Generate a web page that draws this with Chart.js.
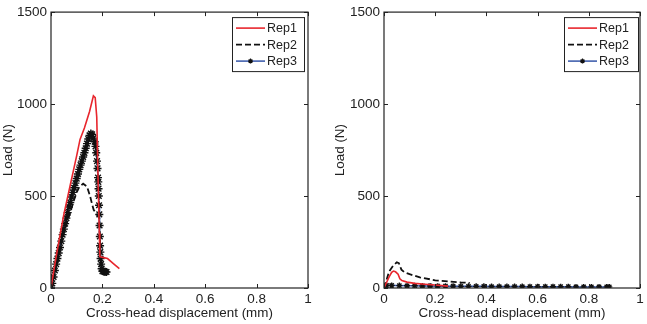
<!DOCTYPE html>
<html>
<head>
<meta charset="utf-8">
<script src="https://cdn.jsdelivr.net/npm/chart.js@4/dist/chart.umd.min.js"></script>
<style>
  html, body { margin: 0; padding: 0; background: #fff; }
  .panel { position: absolute; top: 0; height: 324px; }
  #leftBox { left: 0; width: 323px; }
  #rightBox { left: 332px; width: 315px; }
</style>
</head>
<body>
<div id="leftBox" class="panel"><canvas id="leftChart"></canvas></div>
<div id="rightBox" class="panel"><canvas id="rightChart"></canvas></div>
<script>
// tick labels
const xTicks = [0, 0.2, 0.4, 0.6, 0.8, 1];
const yTicks = [0, 500, 1000, 1500];
const seriesNames = ["Rep1", "Rep2", "Rep3"];

// left panel
const leftRep1X = [0, 0.02, 0.05, 0.075, 0.1, 0.113, 0.13, 0.15, 0.165, 0.172, 0.178, 0.183, 0.188, 0.19, 0.205, 0.22, 0.245, 0.266];
const leftRep1Y = [0, 170, 400, 560, 720, 808, 870, 960, 1045, 1035, 930, 600, 300, 170, 165, 160, 130, 105];

const leftRep2X = [0, 0.05, 0.09, 0.1, 0.11, 0.125, 0.14, 0.152, 0.16, 0.166, 0.178, 0.188, 0.191, 0.197];
const leftRep2Y = [0, 300, 480, 520, 550, 567, 552, 500, 455, 425, 400, 380, 230, 100];

const leftRep3X = [0, 0.005, 0.01, 0.015, 0.02, 0.025, 0.03, 0.035, 0.04, 0.045, 0.05, 0.055, 0.06, 0.065, 0.07,
  0.075, 0.08, 0.085, 0.09, 0.095, 0.1, 0.105, 0.11, 0.115, 0.12, 0.125, 0.13, 0.135, 0.14, 0.145, 0.15, 0.155,
  0.16, 0.165, 0.17, 0.173, 0.176, 0.179, 0.181, 0.183, 0.184, 0.185, 0.186, 0.187, 0.188, 0.189, 0.19, 0.191,
  0.192, 0.193, 0.195, 0.197, 0.2, 0.204, 0.208, 0.212, 0.216];
const leftRep3Y = [0, 25, 60, 95, 130, 160, 190, 220, 255, 290, 320, 350, 380, 410, 440,
  465, 495, 520, 545, 570, 595, 620, 645, 668, 690, 712, 735, 760, 785, 810, 830, 840,
  835, 815, 795, 770, 735, 690, 650, 600, 577, 540, 500, 450, 400, 340, 280, 230,
  195, 160, 130, 105, 92, 90, 89, 88, 87];

// right panel
const rightRep1X = [0, 0.01, 0.02, 0.03, 0.037, 0.045, 0.055, 0.062, 0.07, 0.09, 0.12, 0.16, 0.2, 0.25];
const rightRep1Y = [0, 30, 60, 85, 92, 88, 75, 50, 40, 32, 25, 20, 16, 10];

const rightRep2X = [0, 0.02, 0.035, 0.05, 0.058, 0.068, 0.08, 0.1, 0.14, 0.2, 0.25, 0.3, 0.335];
const rightRep2Y = [0, 90, 120, 140, 135, 100, 85, 75, 58, 42, 36, 30, 28];

const rightRep3X = [0, 0.01, 0.03, 0.06, 0.09, 0.12, 0.15, 0.18, 0.21, 0.24, 0.27, 0.3, 0.33, 0.36, 0.39, 0.42,
  0.45, 0.48, 0.51, 0.54, 0.57, 0.6, 0.63, 0.66, 0.69, 0.72, 0.75, 0.78, 0.81, 0.84, 0.87, 0.88];
const rightRep3Y = [0, 14, 14, 13, 12, 12, 11, 11, 10, 10, 10, 9, 9, 9, 9, 8,
  8, 8, 8, 8, 7, 7, 7, 7, 7, 7, 6, 6, 6, 6, 6, 6];

const FONT = "'Liberation Sans', Arial, Helvetica, sans-serif";
const TEXT = "#222";
const RED = "#e8262d";
const BLUE = "#3556a8";

function pts(xs, ys) {
  return xs.map((x, i) => ({ x: x, y: ys[i] }));
}

function buildDatasets(r1x, r1y, r2x, r2y, r3x, r3y, markerSize) {
  return [
    { label: seriesNames[0], data: pts(r1x, r1y), borderColor: RED, borderWidth: 1.6, pointRadius: 0, tension: 0 },
    { label: seriesNames[1], data: pts(r2x, r2y), borderColor: "#111", borderWidth: 1.8, borderDash: [6, 3], pointRadius: 0, tension: 0 },
    {
      label: seriesNames[2], data: pts(r3x, r3y), borderColor: BLUE, borderWidth: 1.5, tension: 0,
      pointStyle: "star", pointRadius: markerSize, pointBorderColor: "#111", pointBackgroundColor: "#111",
      pointBorderWidth: 1.4,
    },
  ];
}

// draw a small asterisk marker for the legend
function drawStar(ctx, x, y, r) {
  ctx.save();
  ctx.strokeStyle = "#111";
  ctx.lineWidth = 1.2;
  ctx.beginPath();
  for (let i = 0; i < 4; i++) {
    const a = (Math.PI / 4) * i;
    ctx.moveTo(x - Math.cos(a) * r, y - Math.sin(a) * r);
    ctx.lineTo(x + Math.cos(a) * r, y + Math.sin(a) * r);
  }
  ctx.stroke();
  ctx.restore();
}

// box, inward ticks and legend, matlab style
const matlabFrame = {
  id: "matlabFrame",
  afterDraw(chart, args, opts) {
    const ctx = chart.ctx;
    const a = chart.chartArea;
    const xs = chart.scales.x;
    const ys = chart.scales.y;
    ctx.save();
    ctx.strokeStyle = "#222";
    ctx.lineWidth = 1.2;
    ctx.strokeRect(a.left, a.top, a.right - a.left, a.bottom - a.top);
    ctx.lineWidth = 1;
    ctx.beginPath();
    xTicks.forEach((v) => {
      const px = Math.round(xs.getPixelForValue(v)) + 0.5;
      ctx.moveTo(px, a.bottom); ctx.lineTo(px, a.bottom - 4);
      ctx.moveTo(px, a.top); ctx.lineTo(px, a.top + 4);
    });
    yTicks.forEach((v) => {
      const py = Math.round(ys.getPixelForValue(v)) + 0.5;
      ctx.moveTo(a.left, py); ctx.lineTo(a.left + 4, py);
      ctx.moveTo(a.right, py); ctx.lineTo(a.right - 4, py);
    });
    ctx.stroke();

    // legend
    const w = opts.legendWidth;
    const h = 54;
    const lx = a.right - opts.legendInset - w;
    const ly = a.top + 5;
    ctx.fillStyle = "#fff";
    ctx.fillRect(lx, ly, w, h);
    ctx.strokeStyle = "#222";
    ctx.lineWidth = 1;
    ctx.strokeRect(lx + 0.5, ly + 0.5, w, h);
    ctx.font = "12.5px " + FONT;
    ctx.textBaseline = "middle";
    ctx.fillStyle = TEXT;
    chart.data.datasets.forEach((ds, i) => {
      const rowY = ly + 11 + i * 16.5;
      ctx.save();
      ctx.strokeStyle = ds.borderColor;
      ctx.lineWidth = ds.borderWidth;
      ctx.setLineDash(ds.borderDash || []);
      ctx.beginPath();
      ctx.moveTo(lx + 4, rowY);
      ctx.lineTo(lx + 33, rowY);
      ctx.stroke();
      ctx.restore();
      if (ds.pointStyle) drawStar(ctx, lx + 18.5, rowY, 2.5);
      ctx.fillText(ds.label, lx + 35, rowY + 0.5);
    });
    ctx.restore();
  },
};

function buildOptions(yWidth, padRight, padTop, legendWidth, legendInset) {
  return {
    responsive: true,
    maintainAspectRatio: false,
    animation: false,
    layout: { padding: { left: 0, right: padRight, top: padTop, bottom: 0 } },
    plugins: {
      legend: { display: false },
      tooltip: { enabled: false },
      matlabFrame: { legendWidth: legendWidth, legendInset: legendInset },
    },
    scales: {
      x: {
        type: "linear",
        min: 0,
        max: 1,
        afterBuildTicks: (scale) => { scale.ticks = xTicks.map((v) => ({ value: v })); },
        afterFit: (scale) => { scale.height = 36; },
        grid: { display: false, drawTicks: false },
        border: { display: false },
        ticks: {
          padding: 3,
          color: TEXT,
          font: { family: FONT, size: 13.5 },
          maxRotation: 0,
          callback: (value) => String(Number(value.toFixed(1))),
        },
        title: {
          display: true,
          text: "Cross-head displacement (mm)",
          color: TEXT,
          font: { family: FONT, size: 13.4 },
          padding: { top: 0, bottom: 3 },
        },
      },
      y: {
        type: "linear",
        min: 0,
        max: 1500,
        afterBuildTicks: (scale) => { scale.ticks = yTicks.map((v) => ({ value: v })); },
        afterFit: (scale) => { scale.width = yWidth; },
        grid: { display: false, drawTicks: false },
        border: { display: false },
        ticks: {
          padding: 4,
          color: TEXT,
          font: { family: FONT, size: 13.5 },
          callback: (value) => String(value),
        },
        title: {
          display: true,
          text: "Load (N)",
          color: TEXT,
          font: { family: FONT, size: 13.4 },
          padding: { top: 0, bottom: 0 },
        },
      },
    },
  };
}

new Chart(document.getElementById("leftChart").getContext("2d"), {
  type: "line",
  data: { datasets: buildDatasets(leftRep1X, leftRep1Y, leftRep2X, leftRep2Y, leftRep3X, leftRep3Y, 4) },
  options: buildOptions(51, 15, 7, 72, 4),
  plugins: [matlabFrame],
});

new Chart(document.getElementById("rightChart").getContext("2d"), {
  type: "line",
  data: { datasets: buildDatasets(rightRep1X, rightRep1Y, rightRep2X, rightRep2Y, rightRep3X, rightRep3Y, 3) },
  options: buildOptions(52, 7, 9, 74, 2),
  plugins: [matlabFrame],
});
</script>
</body>
</html>
